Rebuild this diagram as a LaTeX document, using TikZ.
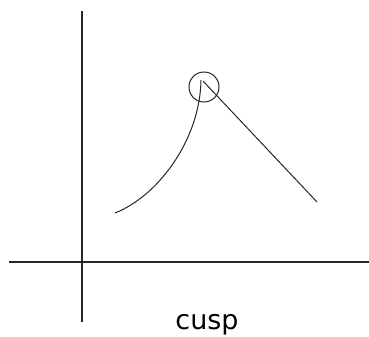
\documentclass[tikz,border=0pt]{standalone}
\usepackage{fontspec}
\setmainfont{DejaVu Sans}
\begin{document}
\begin{tikzpicture}[x=1bp,y=-1bp,
  axis/.style={line width=1.1bp,black!85},
  curve/.style={line width=1bp,black!85},
  lbl/.style={font=\fontsize{27bp}{30bp}\selectfont,inner sep=0pt,anchor=base}]
\useasboundingbox (0,0) rectangle (369,337);
\coordinate (vt) at (82,11);
\coordinate (vb) at (82,322);
\coordinate (hl) at (9,262);
\coordinate (hr) at (369,262);
\draw[axis] (vt) -- (vb);
\draw[axis] (hl) -- (hr);
\coordinate (cl) at (115,213);
\coordinate (tip) at (201,80);
\coordinate (rt) at (203,81);
\coordinate (cr) at (317,202);
\draw[curve] (cl) .. controls (158,196) and (200,140) .. (tip);
\draw[curve] (rt) -- (cr);
\node[draw,circle,curve,minimum size=30bp,inner sep=0pt] (ring) at (204,87) {};
\node[lbl] (cap) at (207,329) {cusp};
\end{tikzpicture}
\end{document}
